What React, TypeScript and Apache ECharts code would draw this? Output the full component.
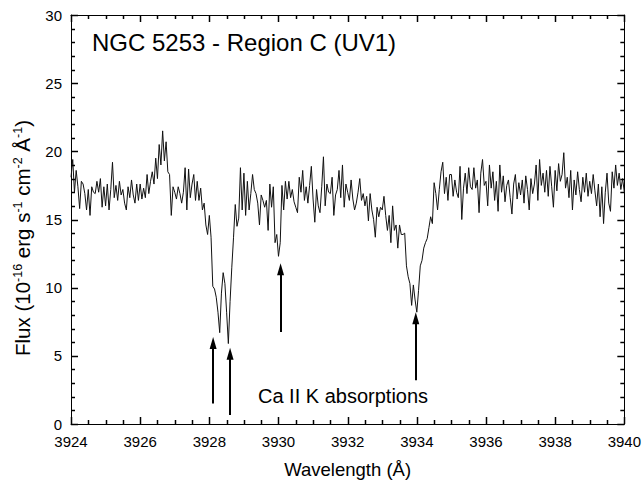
import React, { useEffect, useRef } from "react";
import * as echarts from "echarts";

// Wavelength grid (Å) and flux (10^-16 erg s^-1 cm^-2 Å^-1)
const WL_START = 3924;
const WL_STEP = 0.05;

const flux3924 = [18.1, 19.4, 17.0, 18.6, 17.4, 15.8, 17.8, 17.6, 16.9, 15.7, 17.2, 15.3, 17.4, 17.0, 16.9, 17.8, 17.0, 18.0, 15.9, 17.4];
const flux3925 = [16.0, 17.6, 15.7, 17.2, 19.2, 16.6, 17.5, 16.4, 17.8, 16.8, 17.2, 16.2, 15.7, 17.4, 16.6, 17.9, 16.8, 16.2, 17.6, 16.4];
const flux3926 = [17.6, 16.5, 17.3, 16.6, 18.3, 16.9, 17.8, 18.5, 17.6, 19.5, 18.0, 20.5, 19.0, 21.5, 19.3, 20.7, 18.5, 18.3, 15.3, 17.4];
const flux3927 = [17.0, 16.5, 17.4, 16.9, 16.2, 17.0, 18.8, 15.7, 18.7, 16.6, 17.6, 18.3, 16.4, 17.8, 16.4, 17.3, 15.7, 16.2, 14.6, 13.9];
const flux3928 = [15.3, 13.7, 10.1, 9.9, 9.3, 8.2, 6.7, 9.6, 11.1, 10.3, 8.2, 5.9, 9.0, 11.5, 13.7, 16.1, 14.5, 15.1, 18.8, 15.7];
const flux3929 = [18.4, 15.3, 17.8, 15.7, 16.9, 18.3, 17.2, 16.9, 16.2, 14.6, 16.8, 16.4, 15.9, 16.4, 14.2, 17.6, 15.9, 17.4, 13.3, 13.9];
const flux3930 = [12.3, 13.3, 17.5, 15.7, 17.8, 16.5, 17.8, 16.6, 17.2, 16.3, 15.9, 15.5, 18.1, 17.0, 18.6, 16.4, 17.4, 16.2, 17.5, 18.9];
const flux3931 = [16.5, 14.8, 17.2, 16.0, 15.5, 17.4, 19.6, 16.0, 17.6, 17.0, 16.9, 18.1, 15.3, 16.8, 17.2, 18.6, 16.6, 19.0, 15.9, 17.6];
const flux3932 = [17.0, 16.4, 17.9, 16.5, 15.7, 16.2, 17.0, 18.0, 16.4, 16.9, 16.0, 16.7, 14.9, 16.9, 15.7, 15.0, 13.7, 15.9, 15.2, 15.9];
const flux3933 = [15.7, 16.7, 15.3, 14.2, 15.3, 13.3, 16.0, 14.2, 14.6, 12.9, 14.6, 13.9, 13.9, 14.0, 11.6, 10.8, 10.3, 8.7, 10.2, 9.1];
const flux3934 = [8.2, 9.8, 11.6, 12.0, 12.9, 13.3, 13.6, 14.4, 15.2, 14.7, 17.7, 16.9, 15.7, 17.2, 18.5, 19.2, 16.9, 18.1, 16.4, 18.3];
const flux3935 = [18.3, 16.7, 17.9, 17.0, 16.6, 18.9, 15.0, 17.3, 18.4, 16.9, 18.8, 17.4, 17.2, 18.8, 17.3, 17.9, 15.5, 18.4, 19.4, 17.5];
const flux3936 = [17.8, 16.0, 19.0, 17.3, 18.5, 16.4, 17.8, 15.6, 19.0, 17.0, 18.2, 16.3, 17.5, 17.9, 16.6, 15.4, 17.6, 18.3, 16.5, 17.7];
const flux3937 = [16.8, 17.9, 16.2, 18.2, 17.2, 15.7, 18.0, 16.9, 17.6, 19.0, 16.4, 19.4, 17.5, 18.4, 17.0, 18.6, 16.7, 18.9, 17.4, 15.9];
const flux3938 = [18.6, 17.1, 19.1, 17.8, 18.3, 19.9, 17.3, 18.1, 16.6, 18.6, 15.7, 17.9, 16.8, 18.5, 17.2, 16.3, 18.1, 17.0, 18.4, 16.7];
const flux3939 = [17.8, 16.9, 18.3, 17.1, 16.0, 17.6, 15.2, 17.4, 14.7, 17.0, 18.4, 16.2, 15.6, 18.5, 17.3, 19.0, 17.5, 18.4, 17.2, 18.0];
const flux3940 = [17.0];

const fluxSegments = [
  flux3924, flux3925, flux3926, flux3927, flux3928, flux3929, flux3930, flux3931,
  flux3932, flux3933, flux3934, flux3935, flux3936, flux3937, flux3938, flux3939, flux3940,
];

// Axis settings and tick values
const X_MIN = 3924, X_MAX = 3940, X_INTERVAL = 2;
const Y_MIN = 0, Y_MAX = 30, Y_INTERVAL = 5;
const xMajorTicks = [3924, 3926, 3928, 3930, 3932, 3934, 3936, 3938, 3940];
const xMinorTicks = [3924.5, 3925, 3925.5, 3926.5, 3927, 3927.5, 3928.5, 3929, 3929.5, 3930.5, 3931, 3931.5, 3932.5, 3933, 3933.5, 3934.5, 3935, 3935.5, 3936.5, 3937, 3937.5, 3938.5, 3939, 3939.5];
const yMajorTicks = [0, 5, 10, 15, 20, 25, 30];
const yMinorTicks = [1, 2, 3, 4, 6, 7, 8, 9, 11, 12, 13, 14, 16, 17, 18, 19, 21, 22, 23, 24, 26, 27, 28, 29];

// Arrows (wavelength, base flux, tip flux)
const arrowWl = [3928.11, 3928.6, 3930.06, 3933.97];
const arrowBase = [1.5, 0.66, 6.75, 3.2];
const arrowTip = [5.95, 5.15, 11.35, 7.75];

const titleText = "NGC 5253 - Region C (UV1)";
const annotationText = "Ca II K absorptions";
const yTitleText = "Flux (10{s|-16} erg s{s|-1} cm{s|-2} Å{s|-1})";
const xTitleText = "Wavelength (Å)";
const FONT = "Liberation Sans, Arial, Helvetica, sans-serif";
const MAJOR_LEN = 7;
const MINOR_LEN = 4;

function makeAxis(position: string, min: number, max: number, interval: number, showLabels: boolean) {
  return {
    type: "value",
    position,
    min,
    max,
    interval,
    axisLine: { show: true, onZero: false, lineStyle: { color: "#000", width: 1 } },
    axisTick: { show: false },
    minorTick: { show: false },
    splitLine: { show: false },
    minorSplitLine: { show: false },
    axisLabel: {
      show: showLabels,
      color: "#000",
      fontSize: 15,
      margin: position === "bottom" ? 10 : 9,
      fontFamily: FONT,
      formatter: (v: number) => String(v),
    },
  };
}

export default function App() {
  const ref = useRef<HTMLDivElement>(null);
  useEffect(() => {
    document.body.style.margin = "0";
    if (!ref.current) return;
    const chart = echarts.init(ref.current, null, { renderer: "svg" });
    const fluxValues = fluxSegments.flat();
    const spectrum = fluxValues.map((f, i) => [+(WL_START + i * WL_STEP).toFixed(2), f]);

    const arrows = arrowWl.map((w, i) => [
      { coord: [w, arrowBase[i]], symbol: "none" },
      { coord: [w, arrowTip[i]], symbol: "triangle", symbolSize: [7, 12] },
    ]);

    const xBottom: any = makeAxis("bottom", X_MIN, X_MAX, X_INTERVAL, true);
    xBottom.name = xTitleText;
    xBottom.nameLocation = "middle";
    xBottom.nameGap = 36;
    xBottom.nameTextStyle = { color: "#000", fontSize: 18.5, fontFamily: FONT };

    chart.setOption({
      animation: false,
      textStyle: { fontFamily: FONT },
      grid: { left: 71, right: 16, top: 15, bottom: 60 },
      xAxis: [xBottom, makeAxis("top", X_MIN, X_MAX, X_INTERVAL, false)],
      yAxis: [
        makeAxis("left", Y_MIN, Y_MAX, Y_INTERVAL, true),
        makeAxis("right", Y_MIN, Y_MAX, Y_INTERVAL, false),
      ],
      series: [
        {
          type: "line",
          data: spectrum,
          showSymbol: false,
          symbol: "none",
          lineStyle: { color: "#111", width: 1 },
          silent: true,
          markLine: {
            silent: true,
            symbol: ["none", "triangle"],
            label: { show: false },
            lineStyle: { color: "#000", width: 2, type: "solid" },
            emphasis: { disabled: true },
            data: arrows,
          },
        },
      ],
    });

    // Tick marks, positioned through the axes' own scales
    const px = (v: number) => chart.convertToPixel({ xAxisIndex: 0 }, v) as number;
    const py = (v: number) => chart.convertToPixel({ yAxisIndex: 0 }, v) as number;
    const left = px(X_MIN), right = px(X_MAX), bottom = py(Y_MIN), top = py(Y_MAX);
    const tickStyle = { stroke: "#000", lineWidth: 1.5 };
    const tickEls: any[] = [];
    const addX = (v: number, len: number) => {
      const x = Math.round(px(v)) + 0.5;
      tickEls.push({ type: "line", silent: true, z: 10, shape: { x1: x, y1: bottom, x2: x, y2: bottom - len }, style: tickStyle });
      tickEls.push({ type: "line", silent: true, z: 10, shape: { x1: x, y1: top, x2: x, y2: top + len }, style: tickStyle });
    };
    const addY = (v: number, len: number) => {
      const y = Math.round(py(v)) + 0.5;
      tickEls.push({ type: "line", silent: true, z: 10, shape: { x1: left, y1: y, x2: left + len, y2: y }, style: tickStyle });
      tickEls.push({ type: "line", silent: true, z: 10, shape: { x1: right, y1: y, x2: right - len, y2: y }, style: tickStyle });
    };
    xMajorTicks.forEach((v) => addX(v, MAJOR_LEN));
    xMinorTicks.forEach((v) => addX(v, MINOR_LEN));
    yMajorTicks.forEach((v) => addY(v, MAJOR_LEN));
    yMinorTicks.forEach((v) => addY(v, MINOR_LEN));

    chart.setOption({
      graphic: [
        {
          type: "text",
          left: 92,
          top: 30,
          style: { text: titleText, fontSize: 24, fontFamily: FONT, fill: "#000" },
        },
        {
          type: "text",
          left: 258,
          top: 386,
          style: { text: annotationText, fontSize: 20, fontFamily: FONT, fill: "#000" },
        },
        {
          type: "text",
          x: 22,
          y: 238,
          rotation: Math.PI / 2,
          style: {
            text: yTitleText,
            fontSize: 20.5,
            fontFamily: FONT,
            fill: "#000",
            align: "center",
            verticalAlign: "middle",
            lineHeight: 24,
            rich: {
              s: { fontSize: 12.5, fontFamily: FONT, fill: "#000", verticalAlign: "top", lineHeight: 13, padding: [1, 0, 10, 0] },
            },
          },
        },
        ...tickEls,
      ],
    });
    return () => chart.dispose();
  }, []);
  return <div ref={ref} style={{ width: 644, height: 484 }} />;
}
